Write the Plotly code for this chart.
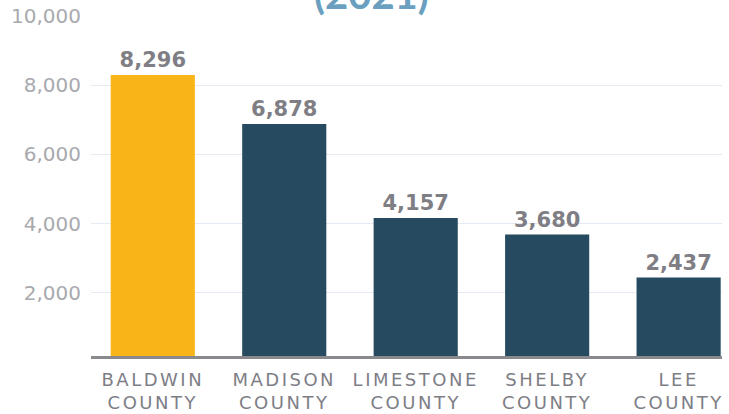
import plotly.graph_objects as go

counties = ["BALDWIN<br>COUNTY", "MADISON<br>COUNTY", "LIMESTONE<br>COUNTY", "SHELBY<br>COUNTY", "LEE<br>COUNTY"]
values = [8296, 6878, 4157, 3680, 2437]
colors = ["#F9B418", "#264B61", "#264B61", "#264B61", "#264B61"]
tick_vals = [2000, 4000, 6000, 8000, 10000]
tick_text = ["2,000", "4,000", "6,000", "8,000", "10,000"]
title_text = "(2021)"

fig = go.Figure(go.Bar(
    x=counties, y=values, marker_color=colors, marker_line_width=0,
    text=[f"{v:,}" for v in values], textposition="outside", cliponaxis=False,
    textfont=dict(family="DejaVu Sans", size=21, color="#7E7E84", weight="bold"),
    width=0.64,
))

fig.update_layout(
    width=729, height=414,
    margin=dict(l=91, r=7, t=16, b=58, autoexpand=False),
    plot_bgcolor="white", paper_bgcolor="white",
    showlegend=False,
    font=dict(family="DejaVu Sans"),
    annotations=[dict(text=title_text, x=0.444, xref="paper", y=1, yref="paper",
                      yanchor="bottom", yshift=-4, showarrow=False,
                      font=dict(family="Lato", size=40, color="#6A9FBF", weight="bold"))],
)
fig.update_xaxes(range=[-0.47, 4.33], showline=True, linecolor="#8A8A8E", linewidth=3,
                 tickfont=dict(family="DejaVu Sans", size=18, color="#7E7E86"), ticks="",
                 showgrid=False, ticklabelstandoff=5, automargin=False)
fig.update_yaxes(range=[170, 10000], tickvals=tick_vals, ticktext=tick_text,
                 showgrid=True, gridcolor="#E4EBF2", gridwidth=1, zeroline=False,
                 tickfont=dict(family="DejaVu Sans", size=20, color="#A9A9AE"), ticks="",
                 ticklabelstandoff=9, automargin=False)

post = """
var s = document.createElement('style');
s.textContent = 'html, body {margin:0; padding:0; overflow:hidden;} .xtick text {letter-spacing:2.5px;}';
document.head.appendChild(s);
"""
fig.write_html("out.html", post_script=post, config={"displayModeBar": False})
